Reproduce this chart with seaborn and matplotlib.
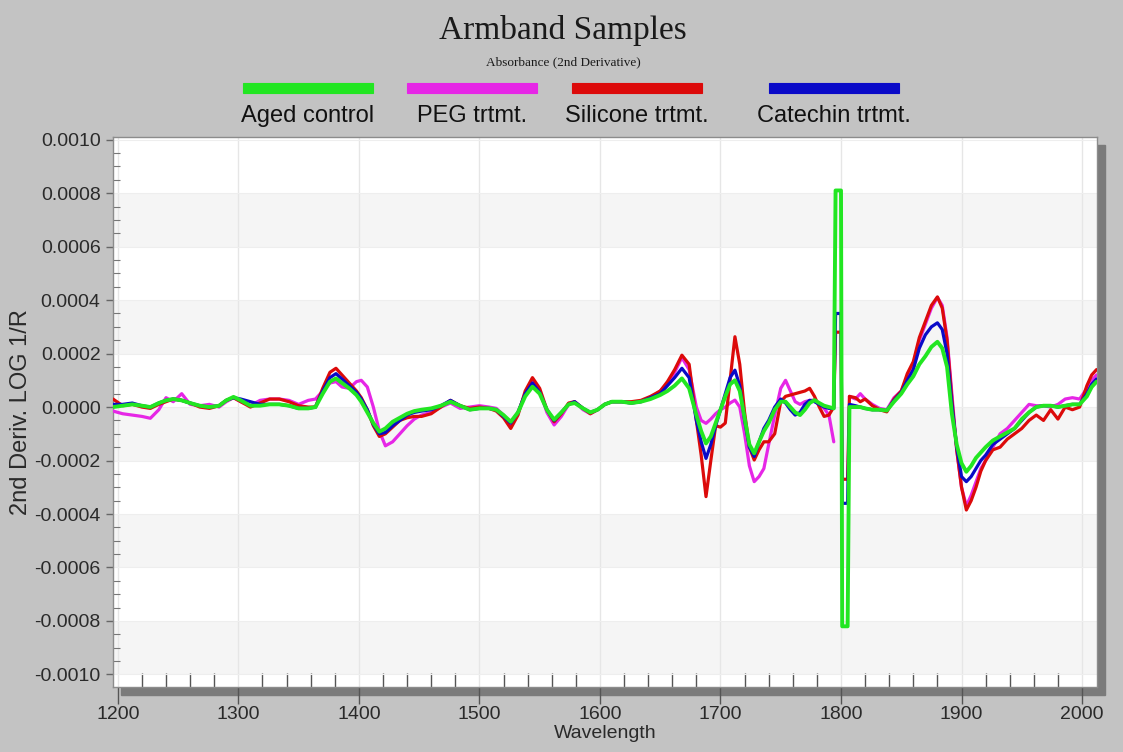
import numpy as np
import pandas as pd
import matplotlib
matplotlib.use("Agg")
import matplotlib.pyplot as plt
import seaborn as sns
from matplotlib.patches import Rectangle
from matplotlib.ticker import MultipleLocator

# ---------------- data (values in units of 1e-4) ----------------
wavelength = [
    1196, 1204, 1212, 1220, 1227, 1234, 1240, 1246, 1253, 1260,
    1268, 1276, 1284, 1290, 1296, 1302, 1310, 1318, 1326, 1334,
    1342, 1350, 1358, 1364, 1370, 1376, 1381, 1386, 1392, 1398,
    1402, 1407, 1412, 1417, 1422, 1428, 1434, 1440, 1446, 1452,
    1460, 1468, 1476, 1484, 1492, 1500, 1508, 1514, 1520, 1526,
    1532, 1538, 1544, 1550, 1556, 1562, 1568, 1574, 1579, 1586,
    1592, 1598, 1604, 1610, 1618, 1626, 1634, 1642, 1650, 1656,
    1662, 1668, 1674, 1680, 1684, 1688, 1692, 1696, 1700, 1704,
    1708, 1712, 1716, 1720, 1724, 1728, 1732, 1736, 1740, 1745,
    1750, 1754, 1758, 1762, 1766, 1770, 1774, 1778, 1782, 1786,
    1790, 1794, 1795.5, 1800, 1801, 1805.5, 1807, 1812, 1816, 1820,
    1826, 1832, 1838, 1844, 1850, 1855, 1860, 1865, 1870, 1875,
    1880, 1884, 1888, 1892, 1896, 1900, 1904, 1908, 1912, 1916,
    1920, 1926, 1932, 1938, 1944, 1950, 1956, 1962, 1968, 1974,
    1980, 1986, 1992, 1998, 2004, 2008, 2012,
]

aged_control = [
    0.0, 0.05, 0.1, 0.05, 0.0, 0.15, 0.25, 0.3, 0.25, 0.15,
    0.05, 0.0, 0.05, 0.25, 0.38, 0.25, 0.05, 0.05, 0.1, 0.1,
    0.05, -0.05, -0.05, 0.0, 0.5, 0.95, 1.07, 0.9, 0.7, 0.45,
    0.2, -0.2, -0.6, -0.92, -0.8, -0.55, -0.4, -0.25, -0.15, -0.1,
    -0.05, 0.05, 0.2, 0.05, -0.1, -0.05, -0.05, -0.1, -0.3, -0.55,
    -0.2, 0.4, 0.76, 0.5, -0.1, -0.47, -0.2, 0.1, 0.15, -0.05,
    -0.2, -0.1, 0.1, 0.2, 0.2, 0.15, 0.2, 0.3, 0.45, 0.6,
    0.8, 1.07, 0.7, -0.3, -0.9, -1.36, -1.1, -0.6, -0.1, 0.4,
    0.85, 1.0, 0.6, -0.4, -1.4, -1.73, -1.3, -0.9, -0.6, -0.1,
    0.2, 0.2, 0.0, -0.2, -0.3, -0.1, 0.15, 0.26, 0.15, 0.05,
    0.0, -0.05, 8.1, 8.1, -8.2, -8.2, 0.0, 0.0, 0.0, -0.05,
    -0.1, -0.1, -0.13, 0.2, 0.5, 0.85, 1.15, 1.6, 1.9, 2.25,
    2.44, 2.2, 1.5, -0.25, -1.4, -2.1, -2.42, -2.2, -1.9, -1.7,
    -1.5, -1.25, -1.1, -0.95, -0.8, -0.45, -0.2, 0.0, 0.05, 0.05,
    0.0, 0.05, 0.1, 0.1, 0.4, 0.75, 0.95,
]

peg_trtmt = [
    -0.15, -0.25, -0.3, -0.35, -0.42, -0.1, 0.35, 0.2, 0.5, 0.1,
    0.05, 0.1, 0.0, 0.2, 0.35, 0.2, 0.05, 0.25, 0.3, 0.3,
    0.25, 0.1, 0.25, 0.3, 0.6, 0.9, 0.95, 0.75, 0.7, 0.95,
    1.0, 0.75, 0.0, -0.9, -1.45, -1.3, -1.0, -0.7, -0.45, -0.3,
    -0.2, 0.0, 0.15, -0.05, 0.0, 0.05, 0.0, -0.05, -0.3, -0.65,
    -0.2, 0.5, 0.95, 0.6, -0.2, -0.67, -0.35, 0.1, 0.2, -0.1,
    -0.25, -0.1, 0.1, 0.2, 0.2, 0.15, 0.2, 0.35, 0.6, 0.85,
    1.3, 1.85, 1.4, 0.0, -0.5, -0.61, -0.45, -0.25, -0.1, 0.0,
    0.15, 0.26, 0.0, -1.0, -2.2, -2.79, -2.6, -2.3, -1.4, -0.3,
    0.7, 1.0, 0.6, 0.2, 0.1, 0.2, 0.25, 0.26, 0.1, -0.05,
    -0.3, -1.3, np.nan, np.nan, np.nan, np.nan, 0.4, 0.3, 0.5, 0.3,
    0.1, -0.05, -0.1, 0.35, 0.6, 1.1, 1.6, 2.5, 3.1, 3.7,
    4.1, 3.8, 2.6, 0.5, -1.6, -3.0, -3.7, -3.3, -2.8, -2.3,
    -2.0, -1.5, -1.0, -0.8, -0.5, -0.2, 0.1, 0.05, 0.05, 0.0,
    0.1, 0.3, 0.35, 0.3, 0.7, 1.0, 1.2,
]

silicone_trtmt = [
    0.3, 0.05, 0.1, 0.0, -0.05, 0.1, 0.2, 0.3, 0.25, 0.15,
    0.0, -0.05, 0.05, 0.25, 0.35, 0.2, 0.0, 0.15, 0.3, 0.3,
    0.2, 0.05, 0.0, 0.0, 0.7, 1.3, 1.45, 1.2, 0.9, 0.6,
    0.35, -0.1, -0.7, -1.1, -1.0, -0.75, -0.5, -0.4, -0.35, -0.35,
    -0.25, 0.0, 0.25, 0.05, -0.05, 0.0, -0.05, -0.15, -0.4, -0.8,
    -0.3, 0.6, 1.1, 0.7, -0.1, -0.55, -0.25, 0.15, 0.2, -0.05,
    -0.25, -0.1, 0.1, 0.2, 0.2, 0.2, 0.25, 0.4, 0.6, 0.95,
    1.4, 1.94, 1.6, -0.5, -1.8, -3.35, -2.0, -0.7, -0.75, -0.6,
    1.0, 2.63, 1.6, -0.2, -1.5, -1.98, -1.6, -1.3, -1.3, -1.0,
    0.2, 0.4, 0.45, 0.5, 0.55, 0.6, 0.7, 0.4, 0.0, -0.35,
    -0.3, 0.0, 2.8, 2.8, -2.7, -2.7, 0.4, 0.35, 0.2, 0.3,
    0.05, -0.1, -0.18, 0.3, 0.6, 1.25, 1.7, 2.6, 3.2, 3.8,
    4.12, 3.7, 2.5, 0.3, -1.6, -3.0, -3.85, -3.5, -3.0, -2.4,
    -2.0, -1.6, -1.5, -1.2, -1.0, -0.8, -0.5, -0.3, -0.5, -0.1,
    -0.45, 0.0, -0.1, 0.0, 0.8, 1.2, 1.4,
]

catechin_trtmt = [
    0.1, 0.1, 0.15, 0.05, 0.0, 0.15, 0.25, 0.3, 0.25, 0.15,
    0.05, 0.0, 0.05, 0.25, 0.35, 0.3, 0.2, 0.1, 0.1, 0.1,
    0.05, -0.05, -0.05, 0.0, 0.6, 1.1, 1.25, 1.05, 0.8, 0.55,
    0.3, -0.1, -0.65, -1.0, -0.95, -0.7, -0.5, -0.3, -0.2, -0.15,
    -0.1, 0.05, 0.25, 0.05, -0.1, -0.05, -0.05, -0.1, -0.35, -0.6,
    -0.2, 0.5, 0.9, 0.55, -0.1, -0.5, -0.2, 0.1, 0.2, -0.05,
    -0.2, -0.1, 0.1, 0.2, 0.2, 0.15, 0.2, 0.35, 0.5, 0.8,
    1.1, 1.45, 1.1, -0.5, -1.3, -1.92, -1.4, -0.7, -0.1, 0.5,
    1.1, 1.38, 0.8, -0.5, -1.5, -1.85, -1.3, -0.8, -0.5, 0.0,
    0.3, 0.15, -0.1, -0.3, -0.2, 0.1, 0.25, 0.2, 0.1, 0.0,
    -0.05, -0.05, 3.5, 3.5, -3.6, -3.6, 0.1, 0.05, 0.0, -0.05,
    -0.1, -0.1, -0.13, 0.25, 0.55, 1.0, 1.4, 2.2, 2.7, 3.0,
    3.15, 2.9, 2.0, 0.1, -1.5, -2.6, -2.79, -2.6, -2.3, -2.0,
    -1.8, -1.4, -1.2, -1.0, -0.8, -0.5, -0.2, 0.0, 0.05, 0.05,
    0.0, 0.05, 0.1, 0.1, 0.5, 0.85, 1.05,
]

series_names = ["Aged control", "PEG trtmt.", "Silicone trtmt.", "Catechin trtmt."]
series_colors = ["#22e622", "#e626e6", "#dc0a0a", "#0a0ac8"]
y_ticks = [-0.0010, -0.0008, -0.0006, -0.0004, -0.0002, 0.0,
           0.0002, 0.0004, 0.0006, 0.0008, 0.0010]
x_ticks = [1200, 1300, 1400, 1500, 1600, 1700, 1800, 1900, 2000]

title = "Armband Samples"
subtitle = "Absorbance (2nd Derivative)"
x_label = "Wavelength"
y_label = "2nd Deriv. LOG 1/R"

# ---------------- build long-form frame ----------------
frames = []
for name, vals in zip(series_names,
                      [aged_control, peg_trtmt, silicone_trtmt, catechin_trtmt]):
    v = np.array(vals, dtype=float) * 1e-4
    seg = np.cumsum(np.isnan(v))
    d = pd.DataFrame({"wavelength": wavelength, "value": v,
                      "series": name, "seg": seg})
    frames.append(d.dropna())
df = pd.concat(frames, ignore_index=True)

# ---------------- figure ----------------
sns.set_theme(style="white")
plt.rcParams["font.family"] = ["Liberation Sans", "DejaVu Sans"]
plt.rcParams["axes.unicode_minus"] = False

W, H = 1123, 752
fig = plt.figure(figsize=(W / 100, H / 100), dpi=100, facecolor="#c3c3c3")


def fx(px):
    return px / W


def fy(py):
    return 1 - py / H


L, R, T, B = 113, 1097, 137, 687
ax = fig.add_axes([fx(L), fy(B), fx(R) - fx(L), fy(T) - fy(B)])
ax.set_facecolor("white")

# drop shadow
fig.add_artist(Rectangle((fx(L + 8), fy(B + 8)), fx(R) - fx(L), fy(T) - fy(B),
                         transform=fig.transFigure, color="#7b7b7b",
                         zorder=-1))

# alternating bands
for lo in y_ticks[0::2][:-1]:
    ax.axhspan(lo, lo + 0.0002, color="#f5f5f5", zorder=0, lw=0)

ax.grid(axis="x", which="major", color="#e6e6e6", lw=1.0, zorder=0.5)
ax.grid(axis="y", which="major", color="#eeeeee", lw=0.8, zorder=0.5)
ax.set_axisbelow(True)

draw_order = ["PEG trtmt.", "Silicone trtmt.", "Catechin trtmt.", "Aged control"]
cmap = dict(zip(series_names, series_colors))
for name in draw_order:
    sub = df[df["series"] == name]
    sns.lineplot(data=sub, x="wavelength", y="value", units="seg",
                 estimator=None, sort=False, color=cmap[name],
                 lw=2.8 if name == "Aged control" else 2.3,
                 legend=False, ax=ax, zorder=3)

ax.set_xlim(1196, 2012.4)
ax.set_ylim(-0.001047, 0.00101)

ax.set_xticks(x_ticks)
ax.set_xticklabels([str(t) for t in x_ticks])
ax.xaxis.set_minor_locator(MultipleLocator(20))
ax.set_yticks(y_ticks)
ax.set_yticklabels([f"{t:.4f}" for t in y_ticks])
ax.yaxis.set_minor_locator(MultipleLocator(0.00005))

ax.tick_params(axis="x", which="major", direction="out", length=12, width=1,
               color="#555555", labelsize=14, labelcolor="#2a2a2a", pad=2,
               bottom=True)
ax.tick_params(axis="x", which="minor", direction="in", length=10, width=1,
               color="#555555", bottom=True)
ax.tick_params(axis="y", which="major", direction="out", length=5, width=1,
               color="#666666", labelsize=14, labelcolor="#2a2a2a", pad=4,
               left=True)
ax.tick_params(axis="y", which="minor", direction="in", length=5, width=0.8,
               color="#777777", left=True)

for s in ax.spines.values():
    s.set_color("#8c8c8c")
    s.set_linewidth(1)

ax.set_xlabel(x_label, fontsize=14, color="#2a2a2a", labelpad=1)
ax.set_ylabel("")
fig.text(fx(21), fy(412), y_label, rotation=90, ha="center", va="center",
         fontsize=17, color="#2a2a2a")

# title / subtitle
serif = ["Liberation Serif", "DejaVu Serif"]
fig.text(fx(563), fy(31), title, ha="center", va="center", fontsize=24,
         family=serif, color="#1a1a1a")
fig.text(fx(563), fy(62), subtitle, ha="center", va="center", fontsize=9.5,
         family=serif, color="#1a1a1a")

# legend (swatch above label)
legend_centers = [308, 472, 637, 834]
for name, col, cx in zip(series_names, series_colors, legend_centers):
    fig.add_artist(Rectangle((fx(cx - 65), fy(93)), 130 / W, 10 / H,
                             transform=fig.transFigure, facecolor=col,
                             edgecolor=col, lw=0.8))
    fig.text(fx(cx), fy(116), name, ha="center", va="center", fontsize=17,
             family=["Liberation Sans Narrow", "Liberation Sans", "DejaVu Sans"],
             color="#111111")

fig.savefig("out.png", dpi=100, facecolor=fig.get_facecolor())
